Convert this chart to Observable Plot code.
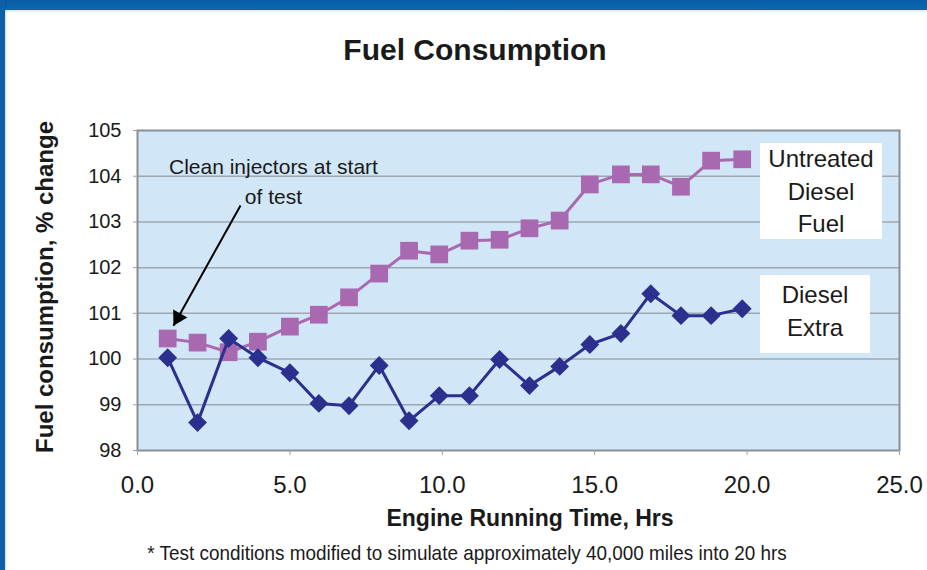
<!DOCTYPE html>
<html>
<head>
<meta charset="utf-8">
<script src="https://cdn.jsdelivr.net/npm/d3@7"></script>
<script src="https://cdn.jsdelivr.net/npm/@observablehq/plot@0.6"></script>
<style>
  body { margin: 0; background: #fff; font-family: "Liberation Sans", Arial, sans-serif; color: #1a1a1a; }
  #c { position: relative; width: 927px; height: 570px; overflow: hidden; background: #fff; }
  #topband { position: absolute; left: 0; top: 0; width: 927px; height: 10px; background: linear-gradient(#0a5da6, #0b68b2); box-shadow: 0 1px 2px rgba(0,0,0,0.15); }
  #leftband { position: absolute; left: 0; top: 0; width: 5px; height: 570px; background: #0a60aa; box-shadow: 1px 0 2px rgba(0,0,0,0.15); }
  .t { position: absolute; white-space: nowrap; line-height: 1; }
  #title { left: 475px; top: 34.6px; font-size: 30px; font-weight: bold; transform: translateX(-50%); }
  #xlabel { left: 530px; top: 506.5px; font-size: 23px; font-weight: bold; transform: translateX(-50%); }
  #ylabel { left: 45px; top: 287px; font-size: 24px; font-weight: bold; transform: translate(-50%, -50%) rotate(-90deg); }
  #foot { left: 467px; top: 542px; font-size: 21px; transform: translateX(-50%) scaleX(0.9); }
  #plot { position: absolute; left: 0; top: 100px; }
  .lg { position: absolute; background: #fff; text-align: center; font-size: 24px; line-height: 32.5px; }
  #lg1 { left: 760px; top: 143px; width: 122px; height: 96px; }
  #lg2 { left: 760px; top: 275px; width: 110px; height: 78px; padding-top: 4px; box-sizing: border-box; }
</style>
</head>
<body>
<div id="c">
  <div id="topband"></div>
  <div id="leftband"></div>
  <div id="title" class="t">Fuel Consumption</div>
  <div id="plot"></div>
  <div id="lg1" class="lg">Untreated<br>Diesel<br>Fuel</div>
  <div id="lg2" class="lg">Diesel<br>Extra</div>
  <div id="ylabel" class="t">Fuel consumption, % change</div>
  <div id="xlabel" class="t">Engine Running Time, Hrs</div>
  <div id="foot" class="t">* Test conditions modified to simulate approximately 40,000 miles into 20 hrs</div>
</div>
<script>
// Data
const hours = [0.99, 1.97, 2.99, 3.95, 5.0, 5.95, 6.94, 7.93, 8.91, 9.9, 10.89, 11.88, 12.86, 13.85, 14.84, 15.86, 16.84, 17.83, 18.82, 19.84];
const untreated = [100.45, 100.36, 100.15, 100.38, 100.71, 100.97, 101.35, 101.87, 102.37, 102.29, 102.59, 102.61, 102.86, 103.03, 103.82, 104.04, 104.04, 103.77, 104.34, 104.37];
const dieselExtra = [100.03, 98.61, 100.45, 100.03, 99.70, 99.03, 98.98, 99.86, 98.65, 99.20, 99.20, 99.99, 99.42, 99.84, 100.32, 100.56, 101.43, 100.95, 100.95, 101.10];
const xTicks = [0, 5, 10, 15, 20, 25];
const yTicks = [98, 99, 100, 101, 102, 103, 104, 105];
const noteLabel = "Clean injectors at start\nof test";

const rows = hours.map((h, i) => ({hours: h, untreated: untreated[i], diesel: dieselExtra[i]}));

const pink = "#a869b0";
const navy = "#2b2f8e";
const font = "'Liberation Sans', Arial, sans-serif";

const chart = Plot.plot({
  width: 927,
  height: 440,
  marginLeft: 137,
  marginRight: 28,
  marginTop: 30,
  marginBottom: 90,
  x: {domain: [0, 25]},
  y: {domain: [98, 105]},
  style: {fontFamily: font, background: "transparent", overflow: "visible", color: "#1a1a1a"},
  marks: [
    Plot.frame({fill: "#d1e6f6"}),
    Plot.gridY(yTicks.slice(1, -1), {stroke: "#9ea7b1", strokeOpacity: 1, strokeWidth: 1.5}),
    Plot.frame({stroke: "#8a8f96", strokeWidth: 2}),
    Plot.axisX(xTicks, {tickFormat: d => d.toFixed(1), tickSize: 5, tickPadding: 20, fontSize: 24, stroke: "#a0a0a0", label: null}),
    Plot.axisY(yTicks, {tickSize: 4, tickPadding: 12, fontSize: 20, stroke: "#a0a0a0", label: null}),
    Plot.line(rows, {x: "hours", y: "untreated", stroke: pink, strokeWidth: 3}),
    Plot.dot(rows, {x: "hours", y: "untreated", symbol: "square", r: 10, fill: pink, stroke: "none"}),
    Plot.line(rows, {x: "hours", y: "diesel", stroke: navy, strokeWidth: 3}),
    Plot.dot(rows, {x: "hours", y: "diesel", symbol: "diamond2", r: 8.5, fill: navy, stroke: "none"}),
    Plot.text([{x: 4.46, y: 104.5, label: noteLabel}], {x: "x", y: "y", text: "label", fontSize: 21, lineAnchor: "top", lineHeight: 1.4, textAnchor: "middle", fill: "#1a1a1a"}),
    Plot.link([{x1: 3.38, y1: 103.36, x2: 1.18, y2: 100.73}], {x1: "x1", y1: "y1", x2: "x2", y2: "y2", stroke: "#000", strokeWidth: 2}),
    Plot.dot([{x: 1.18, y: 100.73}], {x: "x", y: "y", symbol: "triangle", r: 6, fill: "#000", stroke: "none", rotate: 209, dx: 4.5, dy: -8.1})
  ]
});
document.getElementById("plot").appendChild(chart);
</script>
</body>
</html>
